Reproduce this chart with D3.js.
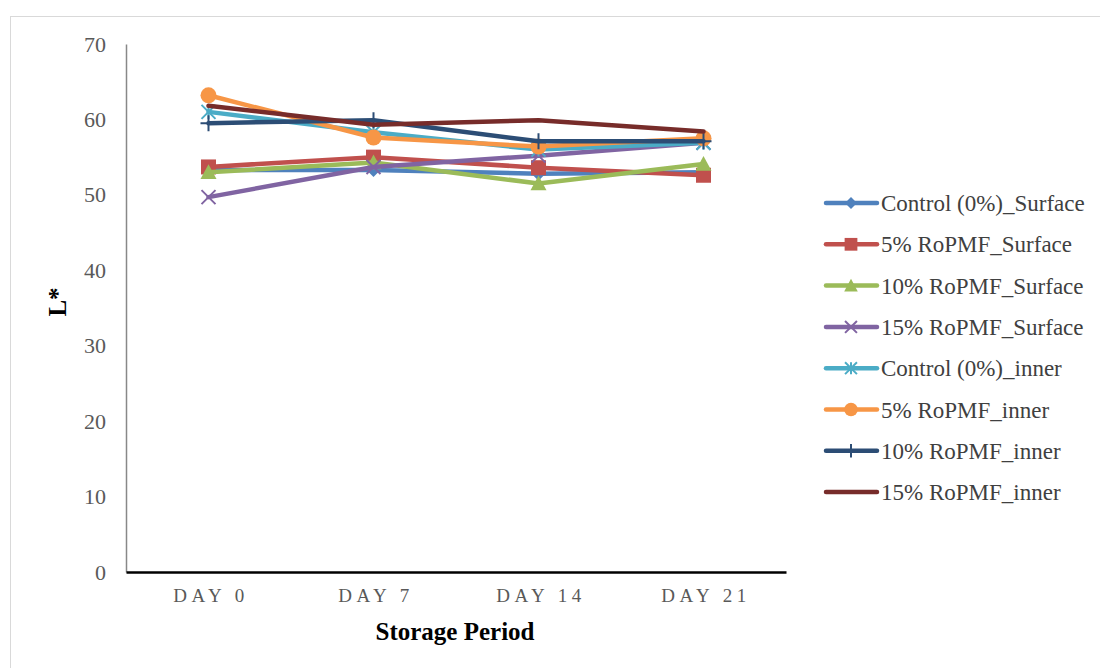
<!DOCTYPE html>
<html>
<head>
<meta charset="utf-8">
<script src="https://cdn.jsdelivr.net/npm/d3@7"></script>
<style>
  body { margin: 0; background: #fff; }
  svg { font-family: "Liberation Serif", "Times New Roman", serif; }
</style>
</head>
<body>
<div id="chart-container"></div>
<script>
const width = 1100;
const height = 668;

// data
const days = ["DAY 0", "DAY 7", "DAY 14", "DAY 21"];
const yTicks = [0, 10, 20, 30, 40, 50, 60, 70];
const seriesNames = [
  "Control (0%)_Surface", "5% RoPMF_Surface", "10% RoPMF_Surface", "15% RoPMF_Surface",
  "Control (0%)_inner", "5% RoPMF_inner", "10% RoPMF_inner", "15% RoPMF_inner"
];
const controlSurface = [53.3, 53.3, 52.8, 53.0];
const rop5Surface = [53.7, 55.0, 53.6, 52.6];
const rop10Surface = [53.0, 54.3, 51.5, 54.1];
const rop15Surface = [49.7, 53.7, 55.2, 56.9];
const controlInner = [61.0, 58.3, 56.0, 56.9];
const rop5Inner = [63.2, 57.6, 56.4, 57.5];
const rop10Inner = [59.5, 59.9, 57.1, 57.1];
const rop15Inner = [61.8, 59.3, 59.9, 58.4];

const seriesValues = [controlSurface, rop5Surface, rop10Surface, rop15Surface,
  controlInner, rop5Inner, rop10Inner, rop15Inner];
const colors = ["#4F81BD", "#C0504D", "#9BBB59", "#8064A2", "#4BACC6", "#F79646", "#2C4D75", "#772C2A"];
const markers = ["diamond", "square", "triangle", "x", "star", "circle", "plus", "none"];

const svg = d3.select("div#chart-container").append("svg")
    .attr("width", width)
    .attr("height", height);

// outer chart border
svg.append("rect")
    .attr("x", 10.5).attr("y", 16.5)
    .attr("width", 1100).attr("height", 660)
    .attr("fill", "none").attr("stroke", "#d9d9d9");

const plot = { left: 126, right: 786, top: 44, bottom: 572 };

const xScale = d3.scalePoint()
    .domain(days)
    .range([plot.left, plot.right])
    .padding(0.5);

const yScale = d3.scaleLinear()
    .domain([0, 70])
    .range([plot.bottom, plot.top]);

// y axis
const yaxis = d3.axisLeft(yScale).tickValues(yTicks).tickSize(0).tickPadding(20);
const gy = svg.append("g")
    .attr("transform", "translate(" + plot.left + ",0)")
    .call(yaxis);
gy.select(".domain").attr("stroke", "#888").attr("stroke-width", 1.5);
gy.selectAll("text")
    .attr("font-size", 22)
    .attr("fill", "#595959")
    .attr("font-family", "Liberation Serif, serif");

// x axis
const xaxis = d3.axisBottom(xScale).tickSize(0).tickPadding(17);
const gx = svg.append("g")
    .attr("transform", "translate(0," + plot.bottom + ")")
    .call(xaxis);
gx.select(".domain").attr("stroke", "#000").attr("stroke-width", 2.5);
gx.selectAll("text")
    .attr("font-size", 19)
    .attr("fill", "#595959")
    .attr("letter-spacing", "4.5px")
    .attr("dx", "2px")
    .attr("font-family", "Liberation Serif, serif");

// axis titles
svg.append("text")
    .attr("x", 455)
    .attr("y", 640)
    .attr("text-anchor", "middle")
    .attr("font-size", 25)
    .attr("font-weight", "bold")
    .text("Storage Period");

svg.append("text")
    .attr("transform", "translate(66,302) rotate(-90)")
    .attr("text-anchor", "middle")
    .attr("font-size", 25)
    .attr("font-weight", "bold")
    .text("L*");

const line = d3.line()
    .x(function (d, i) { return xScale(days[i]) })
    .y(function (d) { return yScale(d) });

function drawMarker(g, type, color, x, y, scale) {
  const s = scale || 1;
  if (type === "diamond") {
    const r = 7 * s;
    g.append("path").attr("d", `M${x},${y - r}L${x + r},${y}L${x},${y + r}L${x - r},${y}Z`).attr("fill", color);
  } else if (type === "square") {
    const r = 7.5 * s;
    g.append("rect").attr("x", x - r).attr("y", y - r).attr("width", 2 * r).attr("height", 2 * r).attr("fill", color);
  } else if (type === "triangle") {
    const r = 8 * s;
    g.append("path").attr("d", `M${x},${y - r}L${x + r},${y + r * 0.85}L${x - r},${y + r * 0.85}Z`).attr("fill", color);
  } else if (type === "circle") {
    g.append("circle").attr("cx", x).attr("cy", y).attr("r", 8 * s).attr("fill", color);
  } else if (type === "x") {
    const r = 7 * s;
    g.append("path").attr("d", `M${x - r},${y - r}L${x + r},${y + r}M${x - r},${y + r}L${x + r},${y - r}`)
      .attr("stroke", color).attr("stroke-width", 2).attr("fill", "none");
  } else if (type === "star") {
    const r = 7 * s;
    g.append("path").attr("d", `M${x - r},${y - r}L${x + r},${y + r}M${x - r},${y + r}L${x + r},${y - r}M${x},${y - r}L${x},${y + r}`)
      .attr("stroke", color).attr("stroke-width", 2).attr("fill", "none");
  } else if (type === "plus") {
    const r = 8 * s;
    g.append("path").attr("d", `M${x - r},${y}L${x + r},${y}M${x},${y - r}L${x},${y + r}`)
      .attr("stroke", color).attr("stroke-width", 2).attr("fill", "none");
  }
}

const seriesG = svg.append("g").attr("class", "line");
seriesValues.forEach(function (vals, k) {
  const g = seriesG.append("g");
  g.append("path")
    .attr("d", line(vals))
    .attr("fill", "none")
    .attr("stroke", colors[k])
    .attr("stroke-width", 4.5)
    .attr("stroke-linejoin", "round")
    .attr("stroke-linecap", "round");
  vals.forEach(function (v, i) {
    drawMarker(g, markers[k], colors[k], xScale(days[i]), yScale(v));
  });
});

// legend
const legend = svg.append("g");
seriesNames.forEach(function (name, k) {
  const y = 203 + k * 41.3;
  const g = legend.append("g");
  g.append("line")
    .attr("x1", 826).attr("x2", 877)
    .attr("y1", y).attr("y2", y)
    .attr("stroke", colors[k])
    .attr("stroke-width", 4.5)
    .attr("stroke-linecap", "round");
  drawMarker(g, markers[k], colors[k], 851, y, 0.85);
  g.append("text")
    .attr("x", 881)
    .attr("y", y)
    .attr("dy", "0.35em")
    .attr("font-size", 23)
    .attr("fill", "#404040")
    .text(name);
});
</script>
</body>
</html>
